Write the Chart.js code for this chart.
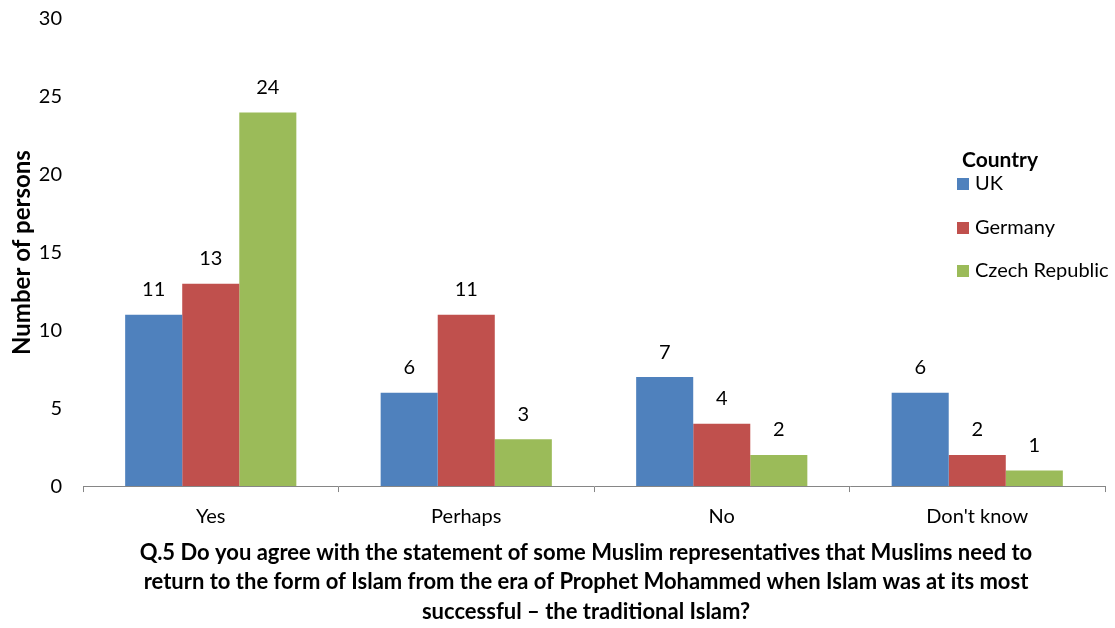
<!DOCTYPE html>
<html>
<head>
<meta charset="utf-8">
<script src="https://cdn.jsdelivr.net/npm/chart.js@4.4.1/dist/chart.umd.min.js"></script>
<style>
  html, body { margin: 0; padding: 0; background: #fff; }
  #wrap { width: 1115px; height: 628px; }
</style>
</head>
<body>
<div id="wrap"><canvas id="chart" width="1115" height="628"></canvas></div>
<script>
const categories = ['Yes', 'Perhaps', 'No', "Don't know"];
const ukValues = [11, 6, 7, 6];
const germanyValues = [13, 11, 4, 2];
const czechValues = [24, 3, 2, 1];
const yTicks = [0, 5, 10, 15, 20, 25, 30];

const FONT = 'Lato, "Open Sans", sans-serif';

// value labels above each bar
const barValues = {
  id: 'barValues',
  afterDatasetsDraw(chart) {
    const ctx = chart.ctx;
    ctx.save();
    ctx.font = '20px ' + FONT;
    ctx.fillStyle = '#000';
    ctx.textAlign = 'center';
    ctx.textBaseline = 'middle';
    chart.data.datasets.forEach((ds, i) => {
      chart.getDatasetMeta(i).data.forEach((bar, j) => {
        ctx.fillText(ds.data[j], bar.x, bar.y - 25);
      });
    });
    ctx.restore();
  }
};

// legend box on the right, inside the plot
const sideLegend = {
  id: 'sideLegend',
  afterDraw(chart) {
    const ctx = chart.ctx;
    ctx.save();
    ctx.textBaseline = 'middle';
    ctx.textAlign = 'left';
    ctx.fillStyle = '#000';
    ctx.font = 'bold 21px ' + FONT;
    ctx.fillText('Country', 962, 160);
    const rows = [184, 228, 271];
    chart.data.datasets.forEach((ds, i) => {
      ctx.fillStyle = ds.backgroundColor;
      ctx.fillRect(957, rows[i] - 6, 12, 12);
      ctx.fillStyle = '#000';
      ctx.font = '20px ' + FONT;
      ctx.fillText(ds.label, 975, rows[i]);
    });
    ctx.restore();
  }
};

// center the bottom title under the plot area instead of the whole canvas
const titleUnderPlot = {
  id: 'titleUnderPlot',
  afterLayout(chart) {
    const t = chart.titleBlock;
    if (t) {
      t.left = chart.chartArea.left - 8;
      t.right = chart.chartArea.right - 8;
    }
  }
};

new Chart(document.getElementById('chart'), {
  type: 'bar',
  data: {
    labels: categories,
    datasets: [
      { label: 'UK', data: ukValues, backgroundColor: '#4F81BD' },
      { label: 'Germany', data: germanyValues, backgroundColor: '#C0504D' },
      { label: 'Czech Republic', data: czechValues, backgroundColor: '#9BBB59' }
    ]
  },
  options: {
    responsive: false,
    animation: false,
    layout: { padding: { top: 19, right: 10, left: 0, bottom: 0 } },
    datasets: { bar: { categoryPercentage: 0.67, barPercentage: 1.0 } },
    plugins: {
      legend: { display: false },
      tooltip: { enabled: false },
      title: {
        display: true,
        position: 'bottom',
        text: [
          'Q.5 Do you agree with the statement of some Muslim representatives that Muslims need to',
          'return to the form of Islam from the era of Prophet Mohammed when Islam was at its most',
          'successful \u2013 the traditional Islam?'
        ],
        color: '#000',
        font: { family: FONT, size: 22, weight: 'bold', lineHeight: 1.34 },
        padding: { top: 7, bottom: 1.5 }
      }
    },
    scales: {
      x: {
        grid: { display: true, drawOnChartArea: false, drawTicks: true, tickLength: 6, color: '#868686', offset: true },
        border: { display: true, color: '#868686', width: 1 },
        ticks: { color: '#000', font: { family: FONT, size: 20 }, padding: 12 },
        afterFit(scale) { scale.height = 45; }
      },
      y: {
        min: 0,
        max: 30,
        afterBuildTicks(scale) { scale.ticks = yTicks.map(v => ({ value: v })); },
        // hidden tick marks keep the labels 21px off the plot
        grid: { display: false, drawTicks: true, tickLength: 21 },
        border: { display: false },
        ticks: { color: '#000', font: { family: FONT, size: 20 }, padding: 0 },
        title: {
          display: true,
          text: 'Number of persons',
          color: '#000',
          font: { family: FONT, size: 24, weight: 'bold' },
          padding: { top: 8, bottom: 0 }
        },
        afterFit(scale) { scale.width = 83; }
      }
    }
  },
  plugins: [barValues, sideLegend, titleUnderPlot]
});
</script>
</body>
</html>
